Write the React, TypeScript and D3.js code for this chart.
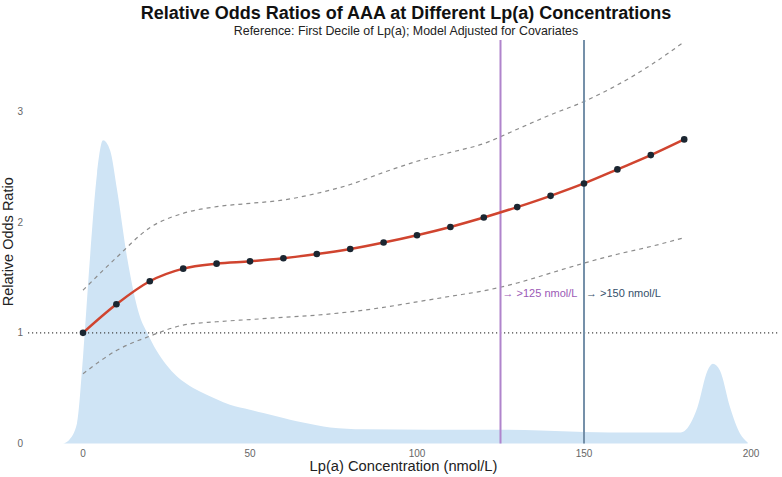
import React from 'react'
import * as d3 from 'd3'

// odds ratio estimates every 10 nmol/L
const lpa = [0, 10, 20, 30, 40, 50, 60, 70, 80, 90, 100, 110, 120, 130, 140, 150, 160, 170, 180]
const oddsRatio = [1.0, 1.258, 1.466, 1.58, 1.625, 1.646, 1.674, 1.712, 1.758, 1.816, 1.882, 1.957, 2.042, 2.136, 2.238, 2.35, 2.477, 2.606, 2.748]
const ciUpper = [1.385, 1.68, 1.95, 2.08, 2.14, 2.17, 2.2, 2.26, 2.34, 2.45, 2.55, 2.63, 2.71, 2.84, 2.97, 3.09, 3.24, 3.42, 3.63]
const ciLower = [0.63, 0.84, 0.97, 1.07, 1.1, 1.12, 1.14, 1.16, 1.19, 1.23, 1.28, 1.33, 1.38, 1.45, 1.54, 1.63, 1.71, 1.78, 1.86]

// Lp(a) distribution, scaled to the odds ratio axis
const densX = [-6, -4.2, -1.8, 0, 2.1, 4.2, 6, 8.1, 10.2, 13.2, 17.1, 19.2, 22, 25, 28, 31, 35, 40, 44, 50, 54, 60, 64, 70, 74, 84, 104, 120, 137, 150, 165, 179, 181, 184, 187, 188.6, 190.7, 193.7, 196.7, 199]
const densY = [0, 0.03, 0.18, 0.78, 1.68, 2.44, 2.74, 2.65, 2.29, 1.68, 1.14, 1.0, 0.84, 0.71, 0.61, 0.54, 0.47, 0.4, 0.35, 0.305, 0.275, 0.23, 0.2, 0.165, 0.145, 0.128, 0.125, 0.125, 0.118, 0.105, 0.1, 0.1, 0.14, 0.33, 0.66, 0.72, 0.66, 0.33, 0.09, 0.01]

const xTicks = [0, 50, 100, 150, 200]
const yTicks = [0, 1, 2, 3]

const thresholds = [
  { value: 125, label: '→ >125 nmol/L', line: '#b084cc', text: '#9b59b6' },
  { value: 150, label: '→ >150 nmol/L', line: '#7590a9', text: '#34506a' },
]

const W = 782
const H = 477
const panelLeft = 28
const panelRight = 779
const panelTop = 40

export default function App() {
  const x = d3.scaleLinear().domain([0, 200]).range([83, 751])
  const y = d3.scaleLinear().domain([0, 3]).range([443.5, 111.5])
  const font = "'Liberation Sans', Arial, sans-serif"

  const dens = densX.map((v, i) => [v, densY[i]] as [number, number])
  const area = d3.area<[number, number]>()
    .x(d => x(d[0]))
    .y0(y(0))
    .y1(d => y(d[1]))
    .curve(d3.curveMonotoneX)

  const ci = d3.line<number>()
    .x((_, i) => x(lpa[i]))
    .y(d => y(d))
    .curve(d3.curveMonotoneX)

  const orLine = d3.line<number>()
    .x((_, i) => x(lpa[i]))
    .y(d => y(d))
    .curve(d3.curveMonotoneX)

  return (
    <svg width={W} height={H} style={{ position: 'absolute', left: 0, top: 0, background: '#fff' }} fontFamily={font}>
      <path d={area(dens) || ''} fill="#cfe4f5" />

      <line x1={panelLeft} x2={panelRight} y1={y(1)} y2={y(1)} stroke="#444" strokeWidth={1.2} strokeDasharray="1.2,2.8" />

      <path d={ci(ciUpper) || ''} fill="none" stroke="#8c8c8c" strokeWidth={1.2} strokeDasharray="4,4" />
      <path d={ci(ciLower) || ''} fill="none" stroke="#8c8c8c" strokeWidth={1.2} strokeDasharray="4,4" />

      {thresholds.map(t => (
        <g key={t.value}>
          <line x1={x(t.value)} x2={x(t.value)} y1={panelTop} y2={y(0)} stroke={t.line} strokeWidth={2} />
          <text x={x(t.value) + 2} y={296.5} fontSize={11} fill={t.text}>{t.label}</text>
        </g>
      ))}

      <path d={orLine(oddsRatio) || ''} fill="none" stroke="#d0442f" strokeWidth={2.5} />
      {oddsRatio.map((v, i) => (
        <circle key={i} cx={x(lpa[i])} cy={y(v)} r={3.3} fill="#1b2631" />
      ))}

      {xTicks.map(t => (
        <text key={t} x={x(t)} y={456.5} fontSize={10} fill="#666" textAnchor="middle">{t}</text>
      ))}
      {yTicks.map(t => (
        <text key={t} x={23} y={y(t) + 3.5} fontSize={10} fill="#666" textAnchor="end">{t}</text>
      ))}

      <text x={(panelLeft + panelRight) / 2} y={471} fontSize={14.7} fill="#222" textAnchor="middle">Lp(a) Concentration (nmol/L)</text>
      <text transform={`translate(13,${(panelTop + y(0)) / 2}) rotate(-90)`} fontSize={14.5} fill="#222" textAnchor="middle">Relative Odds Ratio</text>

      <text x={406} y={19} fontSize={18} fontWeight="bold" fill="#111" textAnchor="middle">Relative Odds Ratios of AAA at Different Lp(a) Concentrations</text>
      <text x={406} y={34.5} fontSize={12.4} fill="#222" textAnchor="middle">Reference: First Decile of Lp(a); Model Adjusted for Covariates</text>
    </svg>
  )
}
